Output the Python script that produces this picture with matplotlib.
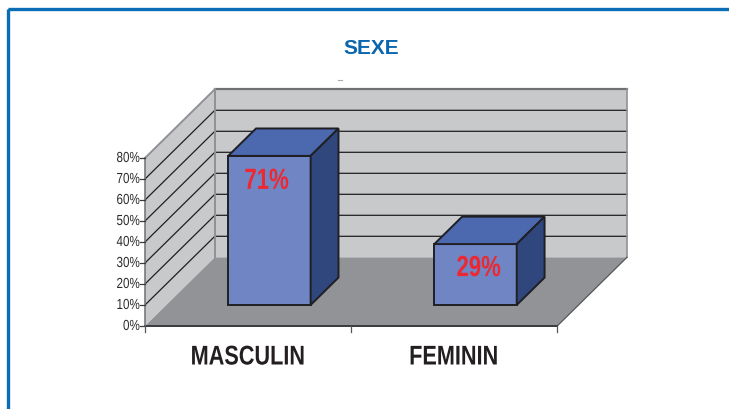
import matplotlib
matplotlib.use('Agg')
import matplotlib.pyplot as plt
from matplotlib.patches import Polygon, Rectangle
from matplotlib.patheffects import AbstractPathEffect
from matplotlib.transforms import Affine2D

categories = ['MASCULIN', 'FEMININ']
values = [71, 29]
value_labels = ['71%', '29%']
ticks = [0, 10, 20, 30, 40, 50, 60, 70, 80]
title = 'SEXE'

font = 'Liberation Sans'

# chart geometry in pixels of the 729x410 picture
x0, x1 = 145, 557.2
y0 = 327
px_per_pct = 2.10
depth_x, depth_y = 69.8, 68.7
bar_frac = 0.40
near, far = 0.306, 0.705


class Squeeze(AbstractPathEffect):
    # the reference font is condensed, none is installed, so squeeze the glyphs
    def __init__(self, sx, anchor='center'):
        super().__init__()
        self.sx = sx
        self.anchor = anchor

    def draw_path(self, renderer, gc, tpath, affine, rgbFace=None):
        ext = tpath.get_extents()
        ref = ext.x1 if self.anchor == 'right' else (ext.x0 + ext.x1) / 2
        tr = Affine2D().translate(-ref, 0).scale(self.sx, 1).translate(ref, 0) + affine
        renderer.draw_path(gc, tpath, tr, rgbFace)


def proj(cat_pos, val, depth):
    # cat_pos in category units, val in percent, depth 0 (front) to 1 (back)
    x = x0 + cat_pos * (x1 - x0) / len(categories) + depth * depth_x
    y = y0 - val * px_per_pct - depth * depth_y
    return (x, y)


def seg(p, q, **kw):
    ax.plot([p[0], q[0]], [p[1], q[1]], **kw)


fig = plt.figure(figsize=(7.29, 4.10), dpi=100)
ax = fig.add_axes([0, 0, 1, 1])
ax.set_xlim(0, 729)
ax.set_ylim(410, 0)
ax.axis('off')

# blue frame of the page
ax.add_patch(Rectangle((8.5, 9.5), 730, 410, fill=False, ec='#0b6db5', lw=2.4))

ax.text(371.5, 48.5, title, color='#0b66ae', fontsize=15, fontweight='bold',
        family=font, ha='center', va='center')

n = len(categories)
top = ticks[-1]
wall_c = '#c8c9cb'
edge_c = '#8f9194'

# walls and floor
ax.add_patch(Polygon([proj(0, 0, 1), proj(n, 0, 1), proj(n, top, 1), proj(0, top, 1)],
                     fc=wall_c, ec='none'))
ax.add_patch(Polygon([proj(0, 0, 0), proj(0, 0, 1), proj(0, top, 1), proj(0, top, 0)],
                     fc=wall_c, ec='none'))
ax.add_patch(Polygon([proj(0, 0, 0), proj(n, 0, 0), proj(n, 0, 1), proj(0, 0, 1)],
                     fc='#929396', ec='none'))

# grid lines
for t in ticks[1:-1]:
    pts = [proj(0, t, 0), proj(0, t, 1), proj(n, t, 1)]
    ax.plot([p[0] for p in pts], [p[1] for p in pts], color='#1f1f21', lw=0.9,
            solid_joinstyle='miter')

# wall edges
seg(proj(0, top, 0), proj(0, top, 1), color=edge_c, lw=1.4)
seg(proj(0, top, 1), proj(n, top, 1), color='#6f7174', lw=1.6)
seg(proj(0, 0, 1), proj(0, top, 1), color=edge_c, lw=1.4)
seg(proj(n, 0, 1), proj(n, top, 1), color=edge_c, lw=1.2)
seg(proj(n, 0, 0), proj(n, 0, 1), color='#55565a', lw=0.9)

# axes
seg(proj(0, 0, 0), proj(n, 0, 0), color='#3a3a3c', lw=1.4)
seg(proj(0, top, 0), proj(0, 0, 0), color='#77797c', lw=1.2)
for t in ticks:
    p = proj(0, t, 0)
    ax.plot([p[0] - 5, p[0]], [p[1], p[1]], color='#3a3a3c', lw=0.9)
    ax.text(p[0] - 5, p[1], str(t) + '%', fontsize=10.5, color='#2b2b2d', family=font,
            ha='right', va='center', path_effects=[Squeeze(0.8, 'right')])
for i in range(n + 1):
    p = proj(i, 0, 0)
    ax.plot([p[0], p[0]], [p[1], p[1] + 6], color='#55565a', lw=0.9)

# bars
label_shift = [-3, 3]
label_drop = [25, 24]
for i, (cat, v, lab) in enumerate(zip(categories, values, value_labels)):
    l = i + 0.5 - bar_frac / 2
    r = l + bar_frac
    ax.add_patch(Polygon([proj(l, 0, near), proj(r, 0, near), proj(r, v, near), proj(l, v, near)],
                         fc='#7085c3', ec='#1f1f24', lw=1.4, joinstyle='miter', zorder=3))
    ax.add_patch(Polygon([proj(l, v, near), proj(r, v, near), proj(r, v, far), proj(l, v, far)],
                         fc='#4c68ae', ec='#1f1f24', lw=1.4, joinstyle='miter', zorder=3))
    ax.add_patch(Polygon([proj(r, 0, near), proj(r, 0, far), proj(r, v, far), proj(r, v, near)],
                         fc='#2f477c', ec='#1f1f24', lw=1.4, joinstyle='miter', zorder=3))
    c = proj((l + r) / 2, v, near)
    ax.text(c[0] + label_shift[i], c[1] + label_drop[i], lab, color='#ee2730', fontsize=21,
            fontweight='bold', family=font, ha='center', va='center', zorder=4,
            path_effects=[Squeeze(0.76)])
    p = proj(i + 0.5, 0, 0)
    ax.text(p[0], 358.5, cat, color='#231f20', fontsize=19.5, fontweight='bold', family=font,
            ha='center', va='center', path_effects=[Squeeze(0.8)])

# stray speck above the back wall in the scan
seg((338, 81), (342, 81), color='#a9abae', lw=0.8)

fig.savefig('out.png', dpi=100, facecolor='white')
